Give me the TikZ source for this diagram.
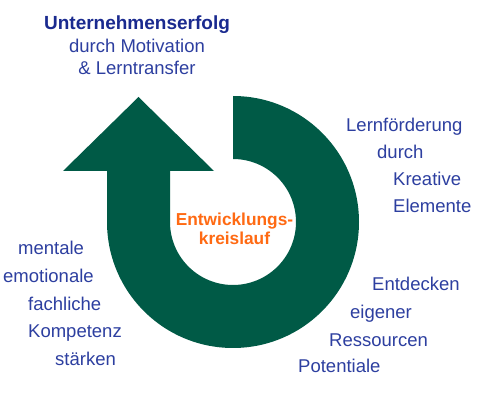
\documentclass[tikz,border=0pt]{standalone}
\usepackage{fontspec}
\setmainfont{Liberation Sans}
\definecolor{arrowgreen}{HTML}{005A46}
\definecolor{textblue}{HTML}{2D3FA0}
\definecolor{titleblue}{HTML}{1A2A8F}
\definecolor{centerorange}{HTML}{FF6A13}
\tikzset{
  lbl/.style={inner sep=0pt, text=textblue, font=\fontsize{18.5}{22}\selectfont},
  ttl/.style={inner sep=0pt, text=titleblue, font=\fontsize{19}{22}\selectfont\bfseries},
  ctr/.style={inner sep=0pt, text=centerorange, font=\fontsize{17.3}{20}\selectfont\bfseries},
  bigarrow/.style={fill=arrowgreen, draw=none}
}
\begin{document}
\begin{tikzpicture}[x=1pt,y=1pt]
\useasboundingbox (0,0) rectangle (480,405);
\fill[white] (0,0) rectangle (480,405);
% circular arrow
\coordinate (c) at (233,183);
\path[bigarrow] (233,246) -- (233,309)
  arc[start angle=90, end angle=-180, radius=126]
  -- (107,234) -- (63,234) -- (138.5,308) -- (214,234) -- (170,234) -- (170,183)
  arc[start angle=180, end angle=450, radius=63] -- cycle;
% title
\node[ttl, anchor=base] (t1) at (137,375) {Unternehmenserfolg};
\node[lbl, anchor=base] (t2) at (137,352) {durch Motivation};
\node[lbl, anchor=base] (t3) at (137,330) {\& Lerntransfer};
% right upper
\node[lbl, anchor=base west] (r1) at (346,273) {Lernförderung};
\node[lbl, anchor=base west] (r2) at (377,246) {durch};
\node[lbl, anchor=base west] (r3) at (393,219) {Kreative};
\node[lbl, anchor=base west] (r4) at (393,192) {Elemente};
% right lower
\node[lbl, anchor=base west] (r5) at (372,114) {Entdecken};
\node[lbl, anchor=base west] (r6) at (350,86) {eigener};
\node[lbl, anchor=base west] (r7) at (329,59) {Ressourcen};
\node[lbl, anchor=base west] (r8) at (298,32) {Potentiale};
% left
\node[lbl, anchor=base west] (l1) at (18,150) {mentale};
\node[lbl, anchor=base west] (l2) at (3,122) {emotionale};
\node[lbl, anchor=base west] (l3) at (28,95) {fachliche};
\node[lbl, anchor=base west] (l4) at (28,67) {Kompetenz};
\node[lbl, anchor=base west] (l5) at (55,40) {stärken};
% center
\node[ctr, anchor=base] (m1) at (234.5,179) {Entwicklungs-};
\node[ctr, anchor=base] (m2) at (234.5,160) {kreislauf};
\end{tikzpicture}
\end{document}
